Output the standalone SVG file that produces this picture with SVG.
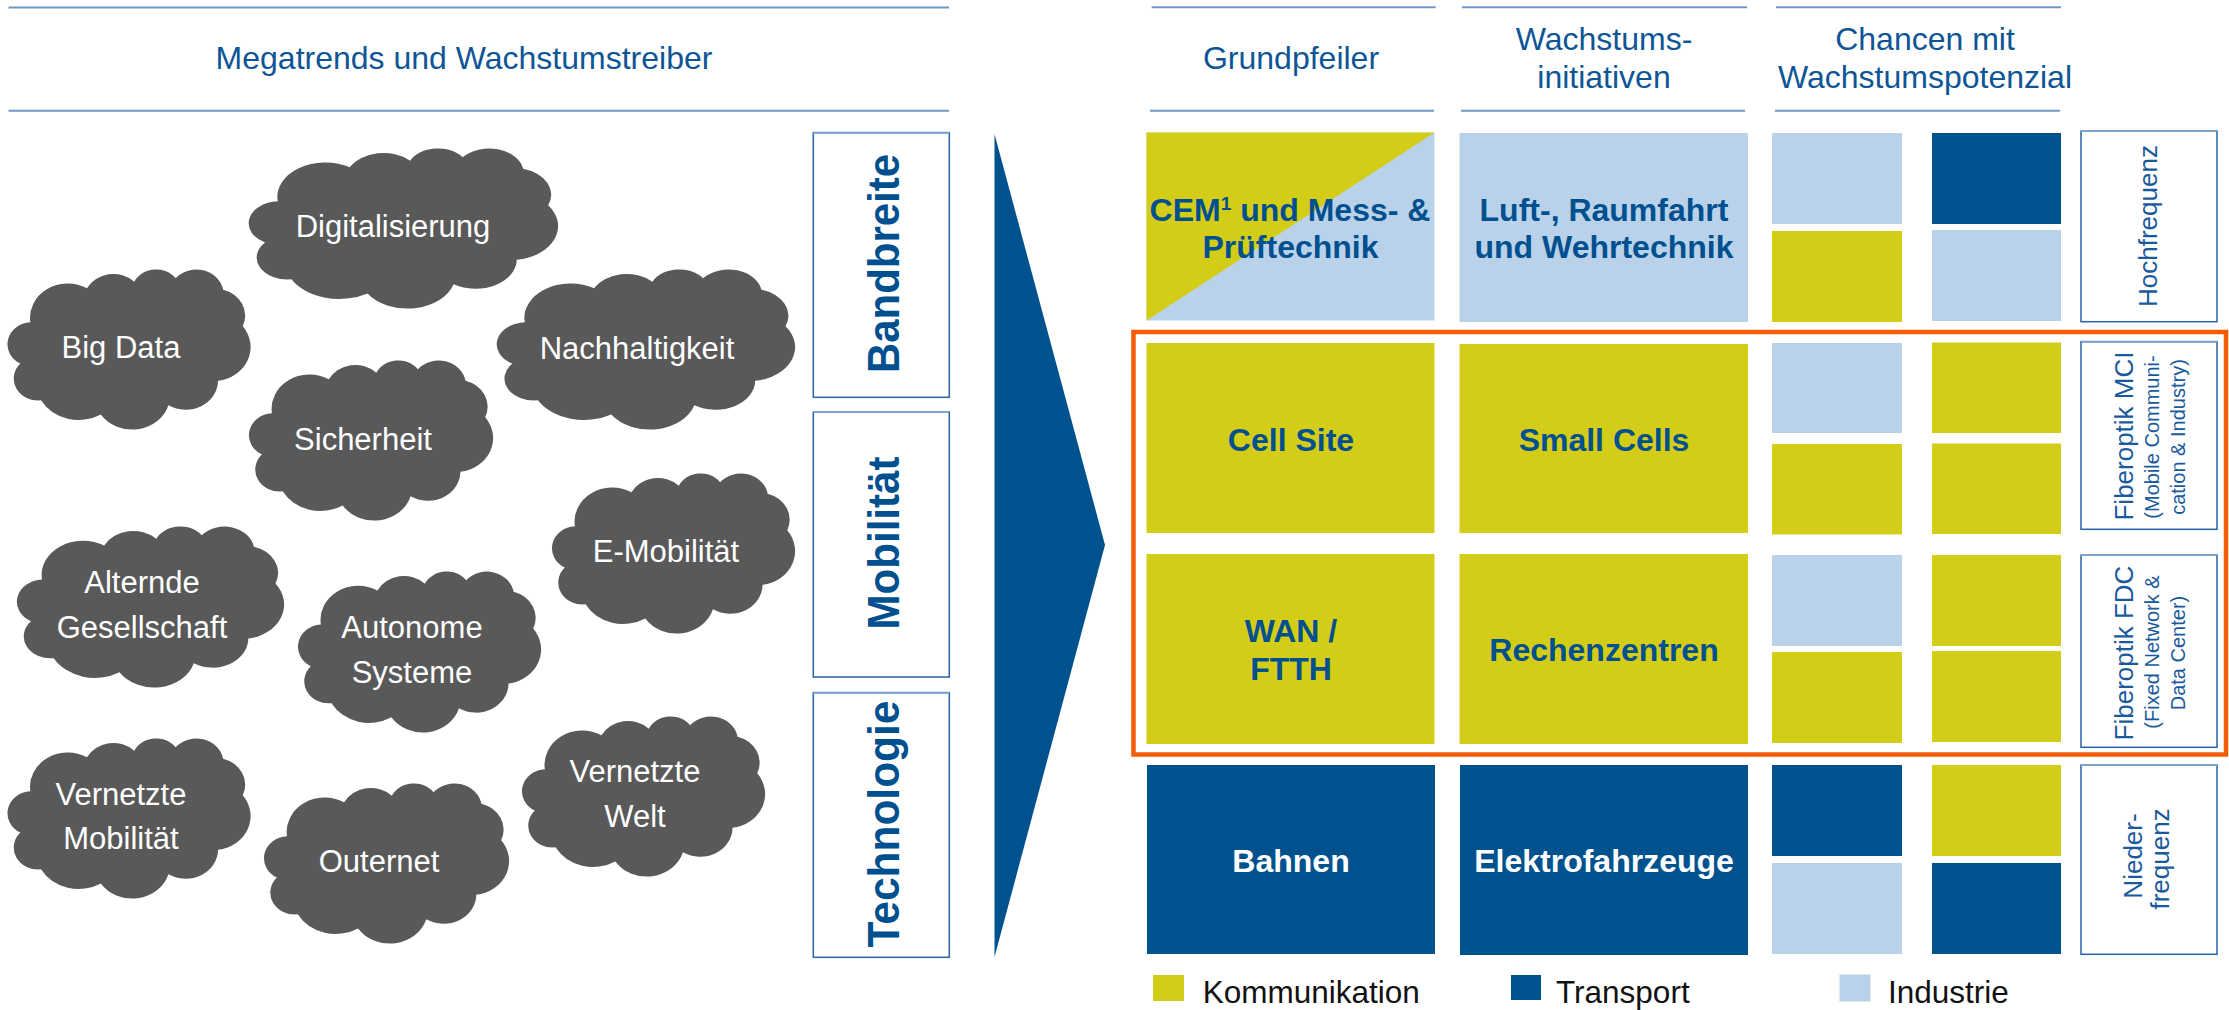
<svg xmlns="http://www.w3.org/2000/svg" width="2229" height="1010" viewBox="0 0 2229 1010">
<style>
text{font-family:"Liberation Sans",Arial,sans-serif}
.hdr{font-size:32px;fill:#0e5596;text-anchor:middle}
.hl{stroke:#7199c6;stroke-width:2;fill:none}
.ct{font-size:31px;fill:#ffffff;text-anchor:middle}
.bt{font-size:32px;font-weight:bold;fill:#00508f;text-anchor:middle}
.bw{font-size:32px;font-weight:bold;fill:#ffffff;text-anchor:middle}
.vt{font-size:45px;font-weight:bold;fill:#00508f;text-anchor:middle}
.lb{font-size:26px;fill:#1a5a9c;text-anchor:middle}
.ls{font-size:20px;fill:#1a5a9c;text-anchor:middle}
.lg{font-size:31.5px;fill:#111111}
.y{fill:#d3cd18}
.l{fill:#b9d2ea}
.d{fill:#00528f}
.bx{fill:#ffffff;stroke:#2463a6;stroke-width:1.5}
.bxt{stroke:#7fa5cf;stroke-width:2}
</style>
<defs>
<path id="cloud" fill="#595959" d="M 9.03 33.26 A 15.63 21.27 0 0 1 32.42 12.04 A 12.35 16.82 0 0 1 51.98 7.94 A 10.10 13.76 0 0 1 69.06 5.74 A 11.24 15.27 0 0 1 88.70 12.90 A 12.35 16.84 0 0 1 96.80 35.78 A 15.68 21.34 0 0 1 86.59 69.90 A 13.39 18.21 0 0 1 66.10 85.20 A 15.63 21.33 0 0 1 38.15 90.88 A 17.87 24.41 0 0 1 13.44 82.10 A 10.09 13.70 0 0 1 4.89 59.13 A 10.06 13.76 0 0 1 9.03 33.26 Z"/>
</defs>

<g id="header-left">
<line class="hl" x1="8.5" y1="7.5" x2="949" y2="7.5"/>
<line class="hl" x1="8.5" y1="110.7" x2="949" y2="110.7"/>
<text class="hdr" x="464" y="69">Megatrends und Wachstumstreiber</text>
</g>

<g id="header-grundpfeiler">
<line class="hl" x1="1151.7" y1="7.3" x2="1435.7" y2="7.3"/>
<line class="hl" x1="1150" y1="110.7" x2="1434" y2="110.7"/>
<text class="hdr" x="1291" y="69.3">Grundpfeiler</text>
</g>
<g id="header-wachstumsinitiativen">
<line class="hl" x1="1462" y1="7.3" x2="1747" y2="7.3"/>
<line class="hl" x1="1461" y1="110.7" x2="1745" y2="110.7"/>
<text class="hdr" x="1604" y="50">Wachstums-</text>
<text class="hdr" x="1604" y="88.3">initiativen</text>
</g>
<g id="header-chancen">
<line class="hl" x1="1776" y1="7.3" x2="2061" y2="7.3"/>
<line class="hl" x1="1775" y1="110.7" x2="2060" y2="110.7"/>
<text class="hdr" x="1925" y="50">Chancen mit</text>
<text class="hdr" x="1925" y="88.3">Wachstumspotenzial</text>
</g>

<g id="cloud-digitalisierung">
<use href="#cloud" transform="translate(250 148) scale(3.08 1.6)"/>
<text class="ct" x="393" y="237">Digitalisierung</text>
</g>
<g id="cloud-bigdata">
<use href="#cloud" transform="translate(8.5 269) scale(2.42 1.6)"/>
<text class="ct" x="121" y="358">Big Data</text>
</g>
<g id="cloud-nachhaltigkeit">
<use href="#cloud" transform="translate(498 269) scale(2.97 1.6)"/>
<text class="ct" x="637" y="359">Nachhaltigkeit</text>
</g>
<g id="cloud-sicherheit">
<use href="#cloud" transform="translate(250 360) scale(2.43 1.6)"/>
<text class="ct" x="363" y="450">Sicherheit</text>
</g>
<g id="cloud-emobilitaet">
<use href="#cloud" transform="translate(553 473) scale(2.42 1.6)"/>
<text class="ct" x="666" y="562">E-Mobilität</text>
</g>
<g id="cloud-alternde-gesellschaft">
<use href="#cloud" transform="translate(18 526) scale(2.66 1.61)"/>
<text class="ct" x="142" y="593">Alternde</text>
<text class="ct" x="142" y="638">Gesellschaft</text>
</g>
<g id="cloud-autonome-systeme">
<use href="#cloud" transform="translate(299 571) scale(2.42 1.61)"/>
<text class="ct" x="412" y="638">Autonome</text>
<text class="ct" x="412" y="683">Systeme</text>
</g>
<g id="cloud-vernetzte-mobilitaet">
<use href="#cloud" transform="translate(8.5 738) scale(2.42 1.6)"/>
<text class="ct" x="121" y="805">Vernetzte</text>
<text class="ct" x="121" y="849">Mobilität</text>
</g>
<g id="cloud-outernet">
<use href="#cloud" transform="translate(265 783) scale(2.44 1.6)"/>
<text class="ct" x="379" y="872">Outernet</text>
</g>
<g id="cloud-vernetzte-welt">
<use href="#cloud" transform="translate(523 716) scale(2.42 1.6)"/>
<text class="ct" x="635" y="782">Vernetzte</text>
<text class="ct" x="635" y="827">Welt</text>
</g>

<g id="box-bandbreite">
<rect class="bx" x="813.3" y="132.7" width="136" height="264.6"/>
<line class="bxt" x1="813.3" y1="132.7" x2="949.3" y2="132.7"/>
<text class="vt" x="899" y="263.5" transform="rotate(-90 899 263.5)" textLength="219" lengthAdjust="spacingAndGlyphs">Bandbreite</text>
</g>
<g id="box-mobilitaet">
<rect class="bx" x="813.3" y="412" width="136" height="265"/>
<line class="bxt" x1="813.3" y1="412" x2="949.3" y2="412"/>
<text class="vt" x="899" y="543" transform="rotate(-90 899 543)" textLength="173" lengthAdjust="spacingAndGlyphs">Mobilität</text>
</g>
<g id="box-technologie">
<rect class="bx" x="813.3" y="692.7" width="136" height="264.6"/>
<line class="bxt" x1="813.3" y1="692.7" x2="949.3" y2="692.7"/>
<text class="vt" x="899" y="824" transform="rotate(-90 899 824)" textLength="247" lengthAdjust="spacingAndGlyphs">Technologie</text>
</g>

<g id="connectors">
<polygon class="d" points="994.5,134 1105,545 994.5,957"/>
</g>

<g id="node-cem">
<rect class="l" x="1146.5" y="132.5" width="288" height="188"/>
<polygon class="y" points="1146.5,132.5 1434.5,132.5 1146.5,320.5"/>
<text class="bt" x="1290" y="220.7">CEM<tspan font-size="19" dy="-11">1</tspan><tspan dy="11"> und Mess- &amp;</tspan></text>
<text class="bt" x="1290.5" y="258.3">Prüftechnik</text>
</g>
<g id="node-luftraumfahrt">
<rect class="l" x="1459.5" y="133" width="288.5" height="189"/>
<text class="bt" x="1604" y="220.7">Luft-, Raumfahrt</text>
<text class="bt" x="1604" y="258.3">und Wehrtechnik</text>
</g>
<g id="node-row1-chancen">
<rect class="l" x="1772" y="133" width="130" height="91"/>
<rect class="y" x="1772" y="231" width="130" height="91"/>
<rect class="d" x="1932" y="133" width="129" height="91"/>
<rect class="l" x="1932" y="230" width="129" height="91"/>
</g>
<g id="label-hochfrequenz">
<rect class="bx" x="2081" y="131" width="136" height="190.7"/>
<line class="bxt" x1="2081" y1="131" x2="2217" y2="131"/>
<text class="lb" x="2157" y="226" transform="rotate(-90 2157 226)">Hochfrequenz</text>
</g>

<g id="node-cellsite">
<rect class="y" x="1146.5" y="343" width="288" height="190"/>
<text class="bt" x="1291" y="451">Cell Site</text>
</g>
<g id="node-smallcells">
<rect class="y" x="1459.5" y="344" width="288.5" height="189"/>
<text class="bt" x="1604" y="451">Small Cells</text>
</g>
<g id="node-row2-chancen">
<rect class="l" x="1772" y="343" width="130" height="90"/>
<rect class="y" x="1772" y="444" width="130" height="90.5"/>
<rect class="y" x="1932" y="342.5" width="129" height="90.5"/>
<rect class="y" x="1932" y="443.5" width="129" height="90.5"/>
</g>
<g id="label-fiberoptik-mci">
<rect class="bx" x="2081" y="341.7" width="136" height="187.6"/>
<line class="bxt" x1="2081" y1="341.7" x2="2217" y2="341.7"/>
<text class="lb" x="2133" y="436" transform="rotate(-90 2133 436)">Fiberoptik MCI</text>
<text class="ls" x="2159" y="437" transform="rotate(-90 2159 437)">(Mobile Communi-</text>
<text class="ls" x="2185" y="437" transform="rotate(-90 2185 437)">cation &amp; Industry)</text>
</g>

<g id="node-wan-ftth">
<rect class="y" x="1146.5" y="554" width="288" height="190"/>
<text class="bt" x="1291" y="642">WAN /</text>
<text class="bt" x="1291" y="680">FTTH</text>
</g>
<g id="node-rechenzentren">
<rect class="y" x="1459.5" y="554" width="288.5" height="190"/>
<text class="bt" x="1604" y="661">Rechenzentren</text>
</g>
<g id="node-row3-chancen">
<rect class="l" x="1772" y="555" width="130" height="91"/>
<rect class="y" x="1772" y="652" width="130" height="91"/>
<rect class="y" x="1932" y="555" width="129" height="91"/>
<rect class="y" x="1932" y="651" width="129" height="91"/>
</g>
<g id="label-fiberoptik-fdc">
<rect class="bx" x="2081" y="555" width="136" height="192.3"/>
<line class="bxt" x1="2081" y1="555" x2="2217" y2="555"/>
<text class="lb" x="2133" y="653" transform="rotate(-90 2133 653)">Fiberoptik FDC</text>
<text class="ls" x="2159" y="652" transform="rotate(-90 2159 652)">(Fixed Network &amp;</text>
<text class="ls" x="2185" y="653" transform="rotate(-90 2185 653)">Data Center)</text>
</g>

<g id="node-bahnen">
<rect class="d" x="1147" y="765" width="288" height="189"/>
<text class="bw" x="1291" y="872">Bahnen</text>
</g>
<g id="node-elektrofahrzeuge">
<rect class="d" x="1460" y="765" width="288" height="190"/>
<text class="bw" x="1604" y="872">Elektrofahrzeuge</text>
</g>
<g id="node-row4-chancen">
<rect class="d" x="1772" y="765" width="130" height="91"/>
<rect class="l" x="1772" y="863" width="130" height="91"/>
<rect class="y" x="1932" y="765" width="129" height="91"/>
<rect class="d" x="1932" y="863" width="129" height="91"/>
</g>
<g id="label-niederfrequenz">
<rect class="bx" x="2081" y="765" width="136" height="189.3"/>
<line class="bxt" x1="2081" y1="765" x2="2217" y2="765"/>
<text class="lb" x="2142" y="856" transform="rotate(-90 2142 856)">Nieder-</text>
<text class="lb" x="2169" y="859" transform="rotate(-90 2169 859)">frequenz</text>
</g>

<g id="highlight-frame">
<rect x="1133.5" y="332" width="1092.5" height="422.5" fill="none" stroke="#f25c0a" stroke-width="4.5"/>
</g>

<g id="legend">
<rect class="y" x="1153" y="975" width="31" height="26"/>
<text class="lg" x="1202.7" y="1003.3">Kommunikation</text>
<rect class="d" x="1511" y="975" width="30" height="25"/>
<text class="lg" x="1556" y="1003.3">Transport</text>
<rect class="l" x="1839.5" y="974.5" width="31" height="27"/>
<text class="lg" x="1888" y="1003.3">Industrie</text>
</g>
</svg>
